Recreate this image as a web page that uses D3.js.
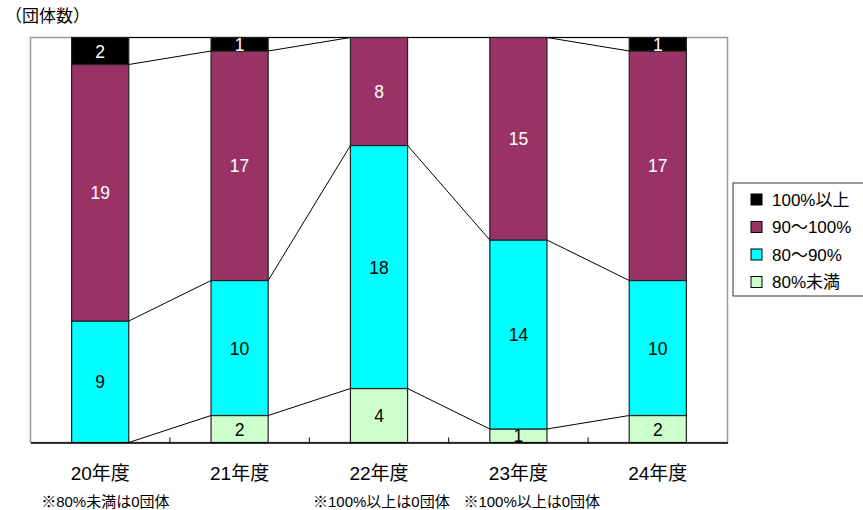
<!DOCTYPE html>
<html>
<head>
<meta charset="utf-8">
<script src="https://cdn.jsdelivr.net/npm/d3@7"></script>
<style>
  body { margin: 0; background: #fff; }
  svg text { font-family: "Liberation Sans", "Noto Sans CJK JP", sans-serif; }
</style>
</head>
<body>
<svg id="chart" width="863" height="510"></svg>
<script>
// data
const years = ["20年度", "21年度", "22年度", "23年度", "24年度"];
const seriesNames = ["80%未満", "80～90%", "90～100%", "100%以上"];
const under80 = [0, 2, 4, 1, 2];
const r80to90 = [9, 10, 18, 14, 10];
const r90to100 = [19, 17, 8, 15, 17];
const over100 = [2, 1, 0, 0, 1];
const notes = ["※80%未満は0団体", "", "※100%以上は0団体", "※100%以上は0団体", ""];

const colors = ["#ccffcc", "#00ffff", "#993366", "#000000"];
const labelColors = ["#000", "#000", "#fff", "#fff"];
const noteShift = [-59, 0, -66, -55];

const svg = d3.select("#chart");
const plot = { left: 30.5, right: 727.5, top: 37.5, bottom: 442.5 };

const rows = years.map((y, i) => ({
  year: y,
  s0: under80[i], s1: r80to90[i], s2: r90to100[i], s3: over100[i]
}));
const stack = d3.stack().keys(["s0", "s1", "s2", "s3"])(rows);

const x = d3.scaleBand().domain(years).range([plot.left, plot.right]).paddingInner(0.59).paddingOuter(0.295);
const y = d3.scaleLinear().domain([0, 30]).range([plot.bottom, plot.top]);

// frame
svg.append("rect")
  .attr("x", plot.left).attr("y", plot.top)
  .attr("width", plot.right - plot.left).attr("height", plot.bottom - plot.top)
  .attr("fill", "none").attr("stroke", "#999").attr("stroke-width", 1.5);

// series lines between bars
stack.forEach(layer => {
  for (let i = 0; i < years.length - 1; i++) {
    svg.append("line")
      .attr("x1", x(years[i]) + x.bandwidth()).attr("y1", y(layer[i][1]))
      .attr("x2", x(years[i + 1])).attr("y2", y(layer[i + 1][1]))
      .attr("stroke", "#000").attr("stroke-width", 1);
  }
});

// bars
stack.forEach((layer, k) => {
  svg.append("g").selectAll("rect")
    .data(layer.filter(d => d[1] > d[0]))
    .enter().append("rect")
    .attr("x", d => x(d.data.year))
    .attr("y", d => y(d[1]))
    .attr("width", x.bandwidth())
    .attr("height", d => y(d[0]) - y(d[1]))
    .attr("fill", colors[k])
    .attr("stroke", "#222").attr("stroke-width", 1.2);
});

// bottom axis
const axis = svg.append("g").attr("transform", `translate(0,${plot.bottom})`)
  .call(d3.axisBottom(x).tickSize(0).tickFormat(""));
axis.select(".domain").attr("stroke", "#000").attr("stroke-width", 1.5);
const step = x.step();
d3.range(1, years.length).forEach(i => {
  svg.append("line")
    .attr("x1", plot.left + step * i).attr("x2", plot.left + step * i)
    .attr("y1", plot.bottom).attr("y2", plot.bottom - 5)
    .attr("stroke", "#000");
});

// value labels
stack.forEach((layer, k) => {
  svg.append("g").selectAll("text")
    .data(layer.filter(d => d[1] > d[0]))
    .enter().append("text")
    .attr("x", d => x(d.data.year) + x.bandwidth() / 2)
    .attr("y", d => (y(d[0]) + y(d[1])) / 2 + 6.5)
    .attr("text-anchor", "middle")
    .attr("font-size", 17.5)
    .attr("fill", labelColors[k])
    .text(d => d[1] - d[0]);
});

// category labels
svg.append("g").selectAll("text")
  .data(years).enter().append("text")
  .attr("x", d => x(d) + x.bandwidth() / 2)
  .attr("y", 480)
  .attr("text-anchor", "middle")
  .attr("font-size", 19)
  .text(d => d);

// footnotes
svg.append("g").selectAll("text")
  .data(notes).enter().append("text")
  .attr("x", (d, i) => x(years[i]) + x.bandwidth() / 2 + noteShift[i])
  .attr("y", 507)
  .attr("font-size", 15)
  .text(d => d);

// unit
svg.append("text").attr("x", 5).attr("y", 22).attr("font-size", 17).text("（団体数）");

// legend
const lg = svg.append("g").attr("transform", "translate(733,183)");
lg.append("rect").attr("width", 132).attr("height", 113)
  .attr("fill", "#fff").attr("stroke", "#333").attr("stroke-width", 1);
const legendOrder = [3, 2, 1, 0];
legendOrder.forEach((k, j) => {
  const yy = 16.5 + j * 27.5;
  lg.append("rect").attr("x", 18).attr("y", yy - 5.5).attr("width", 11).attr("height", 11)
    .attr("fill", colors[k]).attr("stroke", "#000").attr("stroke-width", 1);
  lg.append("text").attr("x", 39).attr("y", yy + 6).attr("font-size", 17).text(seriesNames[k]);
});
</script>
</body>
</html>
